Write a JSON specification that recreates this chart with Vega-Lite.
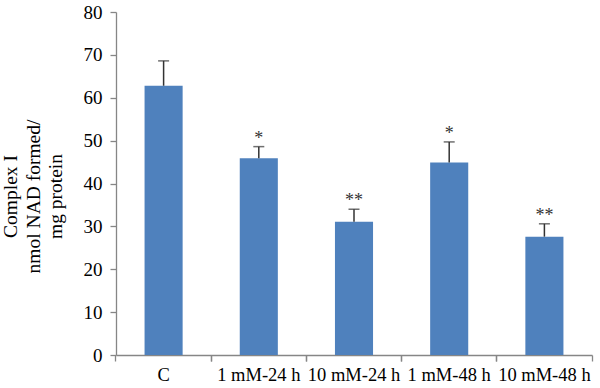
{
  "$schema": "https://vega.github.io/schema/vega-lite/v6.json",
  "width": 476,
  "height": 343,
  "autosize": "none",
  "padding": {"left": 116, "top": 12, "right": 8, "bottom": 33},
  "background": "white",
  "config": {
    "view": {"stroke": null},
    "font": "Liberation Serif",
    "axis": {
      "domainColor": "#868686",
      "tickColor": "#868686",
      "labelColor": "#000000",
      "titleColor": "#000000",
      "labelFont": "Liberation Serif",
      "titleFont": "Liberation Serif",
      "titleFontSize": 19.5,
      "titleFontWeight": "normal",
      "grid": false,
      "domainWidth": 1.3,
      "tickWidth": 1.3
    }
  },
  "data": {
    "values": [
      {"group": "C", "value": 62.8, "upper": 68.6, "sig": ""},
      {"group": "1 mM-24 h", "value": 45.9, "upper": 48.6, "sig": "*"},
      {"group": "10 mM-24 h", "value": 31.1, "upper": 34.0, "sig": "**"},
      {"group": "1 mM-48 h", "value": 44.9, "upper": 49.7, "sig": "*"},
      {"group": "10 mM-48 h", "value": 27.6, "upper": 30.6, "sig": "**"}
    ]
  },
  "resolve": {"axis": {"y": "independent", "x": "independent"}},
  "layer": [
    {
      "mark": {"type": "bar", "color": "#4F81BD"},
      "encoding": {
        "x": {
          "field": "group",
          "type": "nominal",
          "sort": null,
          "scale": {"paddingInner": 0.6, "paddingOuter": 0.3},
          "axis": {
            "orient": "bottom",
            "title": null,
            "labelAngle": 0,
            "labelFontSize": 18.5,
            "labelPadding": 4,
            "tickSize": 6,
            "bandPosition": -0.75,
            "labelOffset": 0,
            "labelOverlap": false,
            "labelBound": false
          }
        },
        "y": {
          "field": "value",
          "type": "quantitative",
          "scale": {"domain": [0, 80], "nice": false},
          "axis": {
            "orient": "left",
            "values": [0, 10, 20, 30, 40, 50, 60, 70, 80],
            "labelFontSize": 19,
            "tickSize": 6,
            "labelPadding": 8,
            "title": null
          }
        }
      }
    },
    {
      "mark": {"type": "rule", "color": "#333333", "strokeWidth": 1.5},
      "encoding": {
        "x": {"field": "group", "type": "nominal", "sort": null, "axis": null},
        "y": {
          "field": "value",
          "type": "quantitative",
          "axis": {
            "orient": "left",
            "domain": false,
            "ticks": false,
            "labels": false,
            "title": "Complex I",
            "titleAlign": "center",
            "titleAngle": 270,
            "titleY": 184,
            "titlePadding": 96
          }
        },
        "y2": {"field": "upper"}
      }
    },
    {
      "mark": {"type": "tick", "color": "#333333", "thickness": 1.5, "size": 11},
      "encoding": {
        "x": {"field": "group", "type": "nominal", "sort": null, "axis": null},
        "y": {
          "field": "upper",
          "type": "quantitative",
          "axis": {
            "orient": "left",
            "domain": false,
            "ticks": false,
            "labels": false,
            "title": "nmol NAD formed/",
            "titleAlign": "center",
            "titleAngle": 270,
            "titleY": 184,
            "titlePadding": 73
          }
        }
      }
    },
    {
      "mark": {"type": "text", "fontSize": 18, "baseline": "alphabetic", "dy": -3, "color": "#333333"},
      "encoding": {
        "x": {
          "field": "group",
          "type": "nominal",
          "sort": null,
          "axis": {
            "orient": "bottom",
            "title": null,
            "labels": false,
            "domain": false,
            "tickSize": 6,
            "bandPosition": 1.75
          }
        },
        "y": {
          "field": "upper",
          "type": "quantitative",
          "axis": {
            "orient": "left",
            "domain": false,
            "ticks": false,
            "labels": false,
            "title": "mg  protein",
            "titleAlign": "center",
            "titleAngle": 270,
            "titleY": 184,
            "titlePadding": 51
          }
        },
        "text": {"field": "sig"}
      }
    }
  ]
}
